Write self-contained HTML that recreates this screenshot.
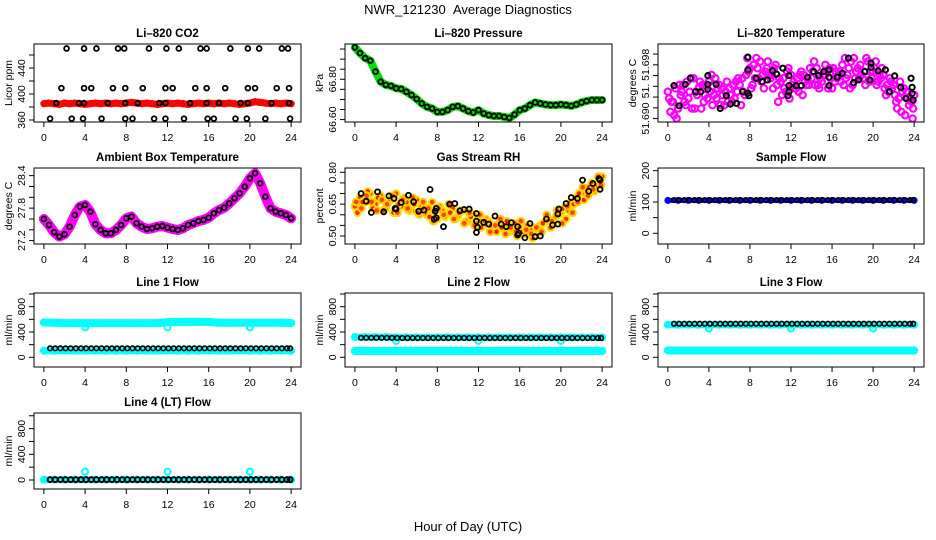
<!DOCTYPE html>
<html><head><meta charset="utf-8"><title>NWR_121230 Average Diagnostics</title>
<style>
html,body{margin:0;padding:0;background:#fff;}
svg{display:block;font-family:"Liberation Sans",Arial,sans-serif;}
</style></head>
<body>
<svg id="chart" width="936" height="540" viewBox="0 0 936 540" xmlns="http://www.w3.org/2000/svg">
<rect x="0" y="0" width="936" height="540" fill="#fff"/>
<text x="468" y="14" font-size="13" text-anchor="middle">NWR_121230&#160;&#160;Average Diagnostics</text>
<text x="468" y="531" font-size="13" text-anchor="middle">Hour of Day (UTC)</text>
</svg>
<script>
// ---- categories (hours) ----
const H49=[0,0.5,1,1.5,2,2.5,3,3.5,4,4.5,5,5.5,6,6.5,7,7.5,8,8.5,9,9.5,10,10.5,11,11.5,12,12.5,13,13.5,14,14.5,15,15.5,16,16.5,17,17.5,18,18.5,19,19.5,20,20.5,21,21.5,22,22.5,23,23.5,24];
const H48=[0.25,0.75,1.25,1.75,2.25,2.75,3.25,3.75,4.25,4.75,5.25,5.75,6.25,6.75,7.25,7.75,8.25,8.75,9.25,9.75,10.25,10.75,11.25,11.75,12.25,12.75,13.25,13.75,14.25,14.75,15.25,15.75,16.25,16.75,17.25,17.75,18.25,18.75,19.25,19.75,20.25,20.75,21.25,21.75,22.25,22.75,23.25,23.75];
const H48D=[0.35,0.85,1.35,1.85,2.35,2.85,3.35,3.85,4.35,4.85,5.35,5.85,6.35,6.85,7.35,7.85,8.35,8.85,9.35,9.85,10.35,10.85,11.35,11.85,12.35,12.85,13.35,13.85,14.35,14.85,15.35,15.85,16.35,16.85,17.35,17.85,18.35,18.85,19.35,19.85,20.35,20.85,21.35,21.85,22.35,22.85,23.35,23.85];
const H49C=[0.125,0.625,1.125,1.625,2.125,2.625,3.125,3.625,4.125,4.625,5.125,5.625,6.125,6.625,7.125,7.625,8.125,8.625,9.125,9.625,10.125,10.625,11.125,11.625,12.125,12.625,13.125,13.625,14.125,14.625,15.125,15.625,16.125,16.625,17.125,17.625,18.125,18.625,19.125,19.625,20.125,20.625,21.125,21.625,22.125,22.625,23.125,23.625,23.9];
const H25=[0,1,2,3,4,5,6,7,8,9,10,11,12,13,14,15,16,17,18,19,20,21,22,23,24];
const HS=[0.6,1.1,1.6,2.1,2.6,3.1,3.6,4.1,4.6,5.1,5.6,6.1,6.6,7.1,7.6,8.1,8.6,9.1,9.6,10.1,10.6,11.1,11.6,12.1,12.6,13.1,13.6,14.1,14.6,15.1,15.6,16.1,16.6,17.1,17.6,18.1,18.6,19.1,19.6,20.1,20.6,21.1,21.6,22.1,22.6,23.1,23.6,23.9];
const xTicks=[0,4,8,12,16,20,24];
const xTickLabels=["0","4","8","12","16","20","24"];

// ---- Li-820 CO2 ----
const co2Red=[385,386,385,384,386,385,386,385,384,385,386,385,386,385,386,385,386,387,386,385,386,385,384,385,386,385,386,385,384,385,386,385,386,385,386,385,386,385,384,385,386,388,387,386,385,386,385,386,385];
const co2BlackHour=[2.2,3.9,5.1,7.2,7.8,10.2,11.9,13.1,15.2,15.8,18.1,19.8,20.9,23.1,23.7, 1.7,3.9,4.6,6.7,7.9,9.6,11.8,12.5,14.7,15.8,17.6,19.8,20.5,22.6,23.8, 1.2,3.4,3.9,6.2,7.9,9.1,11.2,11.8,14.2,15.8,17.0,19.1,19.8,22.1,23.8, 0.6,2.7,3.8,5.6,7.9,8.6,10.7,11.8,13.6,15.9,16.5,18.6,19.7,21.5,23.9];
const co2BlackVal=[470,470,470,470,470,470,470,470,470,470,470,470,470,470,470, 409,409,409,409,409,409,409,409,409,409,409,409,409,409,409, 386,386,386,386,386,386,386,386,386,386,386,386,386,386,386, 362,362,362,362,362,362,362,362,362,362,362,362,362,362,362];

// ---- Li-820 Pressure ----
const presGreen=[66.958,66.930,66.905,66.892,66.838,66.788,66.772,66.767,66.755,66.752,66.738,66.722,66.702,66.680,66.663,66.655,66.638,66.638,66.647,66.663,66.667,66.655,66.642,66.635,66.647,66.630,66.622,66.618,66.618,66.613,66.608,66.625,66.647,66.655,66.672,66.685,66.680,66.675,66.672,66.672,66.675,66.672,66.668,66.675,66.685,66.692,66.697,66.697,66.697];
const presBlack=[66.958,66.930,66.905,66.892,66.838,66.788,66.772,66.767,66.755,66.752,66.738,66.722,66.702,66.680,66.663,66.655,66.638,66.638,66.647,66.663,66.667,66.655,66.642,66.635,66.647,66.630,66.622,66.618,66.618,66.613,66.608,66.625,66.647,66.655,66.672,66.685,66.680,66.675,66.672,66.672,66.675,66.672,66.668,66.675,66.685,66.692,66.697,66.697,66.697];

// ---- Li-820 Temperature ----
const tempMagA=[51.6940,51.6925,51.6915,51.6950,51.6930,51.6960,51.6945,51.6925,51.6955,51.6935,51.6950,51.6920,51.6945,51.6930,51.6950,51.6935,51.6975,51.6960,51.6985,51.6970,51.6960,51.6980,51.6955,51.6940,51.6965,51.6945,51.6970,51.6950,51.6960,51.6975,51.6955,51.6970,51.6945,51.6960,51.6980,51.6965,51.6950,51.6975,51.6960,51.6985,51.6970,51.6955,51.6965,51.6940,51.6950,51.6930,51.6945,51.6920,51.6935];
const tempMagB=[51.6910,51.6945,51.6935,51.6920,51.6960,51.6940,51.6915,51.6950,51.6965,51.6930,51.6945,51.6955,51.6925,51.6940,51.6960,51.6990,51.6950,51.6975,51.6965,51.6985,51.6945,51.6925,51.6960,51.6975,51.6955,51.6940,51.6965,51.6950,51.6985,51.6945,51.6965,51.6975,51.6955,51.6970,51.6990,51.6945,51.6960,51.6980,51.6950,51.6970,51.6985,51.6960,51.6935,51.6955,51.6925,51.6910,51.6940,51.6925];
const tempMagC=[51.6930,51.6905,51.6950,51.6925,51.6940,51.6915,51.6955,51.6935,51.6940,51.6960,51.6920,51.6940,51.6935,51.6955,51.6920,51.6965,51.6945,51.6990,51.6955,51.6975,51.6965,51.6950,51.6935,51.6970,51.6950,51.6960,51.6935,51.6960,51.6970,51.6950,51.6965,51.6945,51.6975,51.6965,51.6950,51.6975,51.6990,51.6960,51.6970,51.6955,51.6975,51.6965,51.6945,51.6960,51.6935,51.6955,51.6905,51.6930,51.6915];
const tempMagD=[51.6925,51.6900,51.6940,51.6955,51.6915,51.6935,51.6950,51.6930,51.6920,51.6945,51.6935,51.6925,51.6950,51.6960,51.6940,51.6970,51.6980,51.6960,51.6945,51.6965,51.6975,51.6960,51.6945,51.6930,51.6945,51.6965,51.6955,51.6975,51.6950,51.6960,51.6980,51.6960,51.6970,51.6955,51.6960,51.6985,51.6970,51.6965,51.6990,51.6960,51.6950,51.6975,51.6950,51.6945,51.6915,51.6940,51.6930,51.6900];
const tempBlackHour=[0.6,1.1,1.7,2.2,2.7,3.2,3.9,3.9,3.9,4.7,5.1,5.7,6.1,6.7,7.3,7.8,7.8,7.8,7.9,8.6,9.2,9.7,10.2,10.6,11.2,11.8,11.8,11.8,11.7,12.5,13.0,13.6,14.2,14.7,15.2,15.7,15.7,15.7,16.5,17.0,17.6,18.1,18.6,19.2,19.7,19.8,19.8,20.5,21.2,21.6,22.1,22.7,23.2,23.7,23.8,23.8,23.9];
const tempBlackVal=[51.6949,51.6919,51.6951,51.6960,51.6940,51.6940,51.6964,51.6951,51.69435,51.6951,51.6915,51.6934,51.69215,51.69225,51.6940,51.69915,51.69725,51.69375,51.6934,51.6960,51.6955,51.69575,51.6971,51.6966,51.6975,51.6964,51.6949,51.6940,51.6934,51.6949,51.6949,51.69615,51.6970,51.6964,51.6970,51.69725,51.69615,51.6949,51.69615,51.69675,51.6990,51.69535,51.69575,51.6970,51.69575,51.69825,51.6976,51.6971,51.69725,51.6940,51.69635,51.69465,51.6930,51.6960,51.69465,51.69375,51.69275];

// ---- Ambient Box Temperature ----
const ambMagenta=[27.600,27.489,27.354,27.274,27.317,27.458,27.674,27.828,27.858,27.735,27.502,27.397,27.335,27.335,27.397,27.489,27.612,27.643,27.520,27.458,27.415,27.428,27.458,27.471,27.440,27.415,27.397,27.428,27.489,27.520,27.563,27.582,27.625,27.705,27.766,27.809,27.889,27.982,28.074,28.197,28.351,28.443,28.258,28.012,27.797,27.735,27.705,27.674,27.612];
const ambBlack=[27.600,27.489,27.354,27.274,27.317,27.458,27.674,27.828,27.858,27.735,27.502,27.397,27.335,27.335,27.397,27.489,27.612,27.643,27.520,27.458,27.415,27.428,27.458,27.471,27.440,27.415,27.397,27.428,27.489,27.520,27.563,27.582,27.625,27.705,27.766,27.809,27.889,27.982,28.074,28.197,28.351,28.443,28.258,28.012,27.797,27.735,27.705,27.674,27.612];

// ---- Gas Stream RH ----
const rhOrangeA=[0.64,0.68,0.66,0.70,0.65,0.69,0.63,0.67,0.70,0.64,0.66,0.62,0.67,0.64,0.60,0.66,0.58,0.62,0.61,0.63,0.59,0.62,0.57,0.60,0.58,0.55,0.57,0.53,0.56,0.55,0.52,0.56,0.54,0.51,0.53,0.50,0.55,0.57,0.54,0.59,0.61,0.58,0.66,0.68,0.70,0.72,0.75,0.74,0.78];
const rhOrangeB=[0.61,0.66,0.71,0.63,0.68,0.62,0.66,0.61,0.65,0.68,0.62,0.65,0.60,0.63,0.59,0.62,0.64,0.59,0.61,0.58,0.62,0.57,0.59,0.56,0.54,0.58,0.55,0.52,0.54,0.57,0.53,0.50,0.52,0.55,0.49,0.53,0.56,0.58,0.56,0.60,0.63,0.62,0.65,0.70,0.67,0.73,0.71,0.76];
const rhOrangeC=[0.66,0.63,0.69,0.66,0.62,0.67,0.65,0.69,0.61,0.67,0.63,0.68,0.61,0.66,0.63,0.57,0.63,0.60,0.65,0.58,0.61,0.56,0.61,0.55,0.60,0.57,0.52,0.55,0.58,0.51,0.54,0.52,0.57,0.53,0.51,0.54,0.52,0.60,0.57,0.62,0.56,0.64,0.61,0.66,0.73,0.69,0.72,0.78,0.74];
const rhBlackHour=[0.6,1.1,1.6,2.2,2.8,3.3,3.8,3.9,4.0,4.5,5.2,5.7,6.2,6.7,7.3,7.8,7.9,7.7,7.9,8.6,9.2,9.7,10.2,10.6,11.1,11.8,11.8,11.9,11.8,12.5,13.0,13.6,14.2,14.7,15.2,15.8,15.9,15.8,16.5,17.0,17.5,18.0,18.6,19.2,19.7,19.8,19.7,20.5,21.0,21.6,22.1,22.7,23.1,23.7,23.8,23.8];
const rhBlackVal=[0.700,0.664,0.611,0.708,0.614,0.689,0.677,0.630,0.627,0.658,0.692,0.661,0.617,0.622,0.719,0.617,0.630,0.580,0.586,0.544,0.650,0.653,0.619,0.625,0.627,0.606,0.570,0.541,0.517,0.564,0.556,0.594,0.556,0.544,0.563,0.544,0.513,0.505,0.492,0.559,0.497,0.500,0.580,0.552,0.556,0.627,0.603,0.653,0.681,0.677,0.763,0.711,0.747,0.770,0.763,0.720];

// ---- Sample Flow ----
const sampleBlue=[105,105,105,105,105,105,105,105,105,105,105,105,105,105,105,105,105,105,105,105,105,105,105,105,105];
const sampleBlack=[106,106,106,106,106,106,106,106,106,106,106,106,106,106,106,106,106,106,106,106,106,106,106,106,106,106,106,106,106,106,106,106,106,106,106,106,106,106,106,106,106,106,106,106,106,106,106,106];

// ---- Line flows ----
const line1CyanHi=[550,545,540,540,540,540,540,540,540,540,540,540,555,560,560,560,560,545,545,545,545,545,545,545,540];
const line1CyanLo=[105,105,105,105,105,105,105,105,105,105,105,105,105,105,105,105,105,105,105,105,105,105,105,105,105];
const line1Black=[142,142,142,142,142,142,142,142,142,142,142,142,142,142,142,142,142,142,142,142,142,142,142,142,142,142,142,142,142,142,142,142,142,142,142,142,142,142,142,142,142,142,142,142,142,142,142,142];
const line1DipHour=[4,12,20];
const line1DipVal=[472,472,472];

const line2CyanHi=[320,320,320,320,315,315,315,315,315,315,315,315,315,315,315,315,315,315,315,315,315,315,315,315,315];
const line2CyanLo=[100,100,100,100,100,100,100,100,100,100,100,100,100,100,100,100,100,100,100,100,100,100,100,100,100];
const line2Black=[308,308,308,308,308,308,308,305,305,305,305,305,305,305,305,305,305,305,305,305,305,305,305,305,305,305,305,305,305,305,305,305,305,305,305,305,305,305,305,305,305,305,305,305,305,305,305,305];
const line2DipHour=[4,12,20];
const line2DipVal=[258,258,258];

const line3CyanHi=[515,515,515,515,515,515,515,515,515,515,515,515,515,515,515,515,515,515,515,515,515,515,515,515,515];
const line3CyanLo=[108,108,108,108,108,108,108,108,108,108,108,108,108,108,108,108,108,108,108,108,108,108,108,108,108];
const line3Black=[530,530,530,530,530,530,530,530,530,530,530,530,530,530,530,530,530,530,530,530,530,530,530,530,530,530,530,530,530,530,530,530,530,530,530,530,530,530,530,530,530,530,530,530,530,530,530,530];
const line3DipHour=[4,12,20];
const line3DipVal=[455,455,455];

const line4Cyan=[5,5,5,5,5,5,5,5,5,5,5,5,5,5,5,5,5,5,5,5,5,5,5,5,5];
const line4Black=[5,5,5,5,5,5,5,5,5,5,5,5,5,5,5,5,5,5,5,5,5,5,5,5,5,5,5,5,5,5,5,5,5,5,5,5,5,5,5,5,5,5,5,5,5,5,5,5];
const line4SpikeHour=[4,12,20];
const line4SpikeVal=[130,130,130];

const NS="http://www.w3.org/2000/svg";
const svg=document.getElementById('chart');
const COLS=[[34,301],[345,612],[658,924]];
const ROWS=[[44,122],[168,244],[293,367],[413,489]];

function el(tag,attrs,parent){const e=document.createElementNS(NS,tag);for(const k in attrs)e.setAttribute(k,attrs[k]);parent.appendChild(e);return e;}

function makePanel(p){
  const [L,R]=COLS[p.col],[T,B]=ROWS[p.row];
  const g=el('g',{},svg);
  
  
  const xs=h=>L+(h+0.96)/25.92*(R-L);
  const ys=v=>B-(v-p.lo)/(p.hi-p.lo)*(B-T);
  const t=el('text',{x:(L+R)/2,y:T-7,'font-size':11.5,'font-weight':'bold','text-anchor':'middle'},g);
  t.textContent=p.title;
  
  
  const yl=el('text',{x:0,y:0,'font-size':10.5,'text-anchor':'middle',transform:`translate(${L-22},${(T+B)/2}) rotate(-90)`},g);
  yl.textContent=p.ylab;
  
  
  const xa=el('g',{stroke:'#000','stroke-width':1},g);
  
  
  el('line',{x1:xs(xTicks[0]),x2:xs(xTicks[xTicks.length-1]),y1:B,y2:B},xa);
  xTicks.forEach((h,i)=>{
    el('line',{x1:xs(h),x2:xs(h),y1:B,y2:B+5},xa);
    const tx=el('text',{x:xs(h),y:B+19,'font-size':10.5,'text-anchor':'middle',stroke:'none'},xa);
    tx.textContent=xTickLabels[i];
    
    
  });
  const ya=el('g',{stroke:'#000','stroke-width':1},g);
  
  
  el('line',{x1:L,x2:L,y1:ys(p.ticks[0]),y2:ys(p.ticks[p.ticks.length-1])},ya);
  p.ticks.forEach(v=>el('line',{x1:L-5,x2:L,y1:ys(v),y2:ys(v)},ya));
  p.labels.forEach((lab,i)=>{
    const ty=el('text',{x:0,y:0,'font-size':10.5,'text-anchor':'middle',stroke:'none',transform:`translate(${L-9},${ys(p.labelVals[i])}) rotate(-90)`},ya);
    ty.textContent=lab;
    
    
  });
  const cid='clip-'+p.name;
  const cp=el('clipPath',{id:cid},g);
  el('rect',{x:L,y:T,width:R-L,height:B-T},cp);
  const plot=el('g',{'clip-path':`url(#${cid})`},g);
  
  
  p.series.forEach(s=>{
    const sg=el('g',{},plot);
    
    
    if(s.band){
      const d=s.hours.map((h,i)=>(i?'L':'M')+xs(h).toFixed(1)+' '+ys(s.vals[i]).toFixed(1)).join(' ');
      el('path',{d:d,fill:'none',stroke:s.color,'stroke-width':s.band,'stroke-linejoin':'round','stroke-linecap':'round'},sg);
    }
    s.hours.forEach((h,i)=>{
      const c=el('circle',{cx:xs(h),cy:ys(s.vals[i]),r:s.r||2.6,fill:s.fill||'none',stroke:s.color,'stroke-width':s.sw||1.6},sg);
      
      
    });
  });
  const box=el('rect',{x:L,y:T,width:R-L,height:B-T,fill:'none',stroke:'#000','stroke-width':1},g);
  
  
}

function rng(a,b,s){const r=[];for(let v=a;v<=b+1e-9;v+=s)r.push(+v.toFixed(6));return r;}

makePanel({name:'co2',title:'Li\u2013820 CO2',ylab:'Licor ppm',col:0,row:0,lo:356.9,hi:476.9,ticks:rng(360,460,20),labels:['360','400','440'],labelVals:[360,400,440],
  series:[{name:'co2-red-series',hours:H49,vals:co2Red,color:'#ff0000',band:7,r:2.6,sw:2},
          {name:'co2-black-series',hours:co2BlackHour,vals:co2BlackVal,color:'#000',r:2.4,sw:1.8}]});
makePanel({name:'pressure',title:'Li\u2013820 Pressure',ylab:'kPa',col:1,row:0,lo:66.588,hi:66.975,ticks:rng(66.60,66.95,0.05),labels:['66.60','66.80'],labelVals:[66.60,66.80],
  series:[{name:'pressure-green-series',hours:H49,vals:presGreen,color:'#00dd00',band:8,r:2.6,sw:2},
          {name:'pressure-black-series',hours:H49,vals:presBlack,color:'#000',r:2.4,sw:1.8}]});
makePanel({name:'li820-temp',title:'Li\u2013820 Temperature',ylab:'degrees C',col:2,row:0,lo:51.68949,hi:51.7011,ticks:[51.690,51.6916,51.6932,51.6948,51.6964,51.698,51.6996],labels:['51.690','51.','51.698'],labelVals:[51.690,51.6941,51.698],
  series:[{name:'temp-magenta-a',hours:H49,vals:tempMagA,color:'#ff00ff',r:3.2,sw:2.2},
          {name:'temp-magenta-b',hours:H48,vals:tempMagB,color:'#ff00ff',r:3.2,sw:2.2},
          {name:'temp-magenta-c',hours:H49C,vals:tempMagC,color:'#ff00ff',r:3.2,sw:2.2},
          {name:'temp-magenta-d',hours:H48D,vals:tempMagD,color:'#ff00ff',r:3.2,sw:2.2},
          {name:'temp-black-series',hours:tempBlackHour,vals:tempBlackVal,color:'#000',r:2.6,sw:2}]});
makePanel({name:'ambient',title:'Ambient Box Temperature',ylab:'degrees C',col:0,row:1,lo:27.138,hi:28.541,ticks:rng(27.2,28.4,0.2),labels:['27.2','27.8','28.4'],labelVals:[27.2,27.8,28.4],
  series:[{name:'ambient-magenta-series',hours:H49,vals:ambMagenta,color:'#ff00ff',band:10,r:3,sw:2},
          {name:'ambient-black-series',hours:H49,vals:ambBlack,color:'#000',r:2.4,sw:1.8}]});
makePanel({name:'rh',title:'Gas Stream RH',ylab:'percent',col:1,row:1,lo:0.4625,hi:0.8202,ticks:rng(0.50,0.80,0.05),labels:['0.50','0.65','0.80'],labelVals:[0.50,0.65,0.80],
  series:[{name:'rh-orange-a',hours:H49,vals:rhOrangeA,color:'#ffdd00',fill:'#ff3300',r:3.3,sw:2},
          {name:'rh-orange-b',hours:H48,vals:rhOrangeB,color:'#ffe000',fill:'#ee2200',r:3.3,sw:2},
          {name:'rh-orange-c',hours:H49C,vals:rhOrangeC,color:'#ffcc00',fill:'#ff4400',r:3.3,sw:2},
          {name:'rh-black-series',hours:rhBlackHour,vals:rhBlackVal,color:'#000',r:2.5,sw:1.8}]});
makePanel({name:'sample-flow',title:'Sample Flow',ylab:'ml/min',col:2,row:1,lo:-34.2,hi:208.6,ticks:rng(0,200,50),labels:['0','100','200'],labelVals:[0,100,200],
  series:[{name:'sample-blue-series',hours:H25,vals:sampleBlue,color:'#0000ff',band:5,r:2.5,sw:2},
          {name:'sample-black-series',hours:HS,vals:sampleBlack,color:'#000',r:2.3,sw:1.6}]});
const flowTicks=rng(0,1000,200);
makePanel({name:'line1-flow',title:'Line 1 Flow',ylab:'ml/min',col:0,row:2,lo:-153,hi:1016,ticks:flowTicks,labels:['0','400','800'],labelVals:[0,400,800],
  series:[{name:'line1-cyan-high',hours:H25,vals:line1CyanHi,color:'#00ffff',band:8,r:3,sw:2},
          {name:'line1-cyan-low',hours:H25,vals:line1CyanLo,color:'#00ffff',band:7,r:3,sw:2},
          {name:'line1-cyan-dips',hours:line1DipHour,vals:line1DipVal,color:'#00ffff',r:3,sw:2},
          {name:'line1-black-series',hours:HS,vals:line1Black,color:'#000',r:2.3,sw:1.6}]});
makePanel({name:'line2-flow',title:'Line 2 Flow',ylab:'ml/min',col:1,row:2,lo:-153,hi:1016,ticks:flowTicks,labels:['0','400','800'],labelVals:[0,400,800],
  series:[{name:'line2-cyan-high',hours:H25,vals:line2CyanHi,color:'#00ffff',band:7,r:3,sw:2},
          {name:'line2-cyan-low',hours:H25,vals:line2CyanLo,color:'#00ffff',band:8,r:3,sw:2},
          {name:'line2-cyan-dips',hours:line2DipHour,vals:line2DipVal,color:'#00ffff',r:3,sw:2},
          {name:'line2-black-series',hours:HS,vals:line2Black,color:'#000',r:2.3,sw:1.6}]});
makePanel({name:'line3-flow',title:'Line 3 Flow',ylab:'ml/min',col:2,row:2,lo:-153,hi:1016,ticks:flowTicks,labels:['0','400','800'],labelVals:[0,400,800],
  series:[{name:'line3-cyan-high',hours:H25,vals:line3CyanHi,color:'#00ffff',band:7,r:3,sw:2},
          {name:'line3-cyan-low',hours:H25,vals:line3CyanLo,color:'#00ffff',band:8,r:3,sw:2},
          {name:'line3-cyan-dips',hours:line3DipHour,vals:line3DipVal,color:'#00ffff',r:3,sw:2},
          {name:'line3-black-series',hours:HS,vals:line3Black,color:'#000',r:2.3,sw:1.6}]});
makePanel({name:'line4-flow',title:'Line 4 (LT) Flow',ylab:'ml/min',col:0,row:3,lo:-140,hi:1043,ticks:flowTicks,labels:['0','400','800'],labelVals:[0,400,800],
  series:[{name:'line4-cyan-series',hours:H25,vals:line4Cyan,color:'#00ffff',band:6,r:3,sw:2},
          {name:'line4-cyan-spikes',hours:line4SpikeHour,vals:line4SpikeVal,color:'#00ffff',r:3,sw:2},
          {name:'line4-black-series',hours:HS,vals:line4Black,color:'#000',r:2.5,sw:2}]});
</script>
</body></html>
